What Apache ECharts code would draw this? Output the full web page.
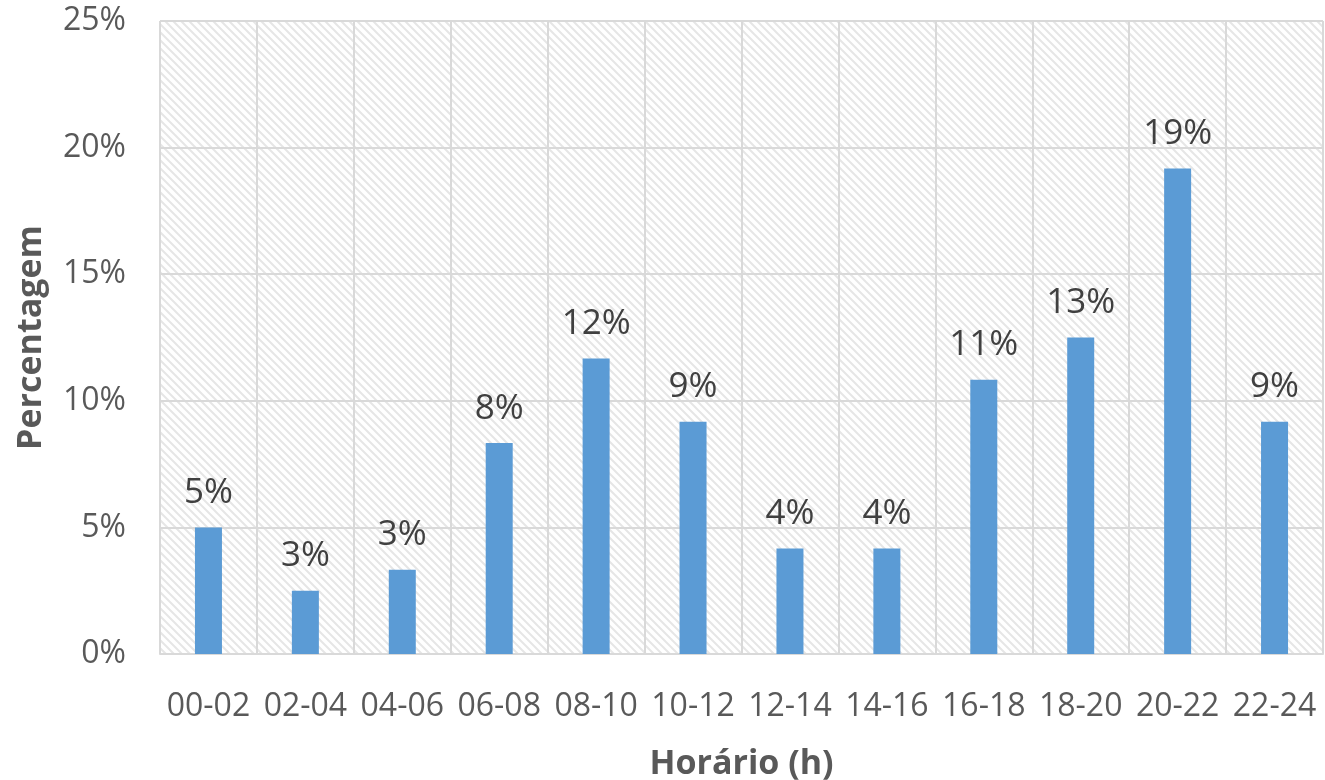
<!DOCTYPE html>
<html>
<head>
<meta charset="utf-8">
<script src="https://cdn.jsdelivr.net/npm/echarts@6/dist/echarts.min.js"></script>
<style>
  html, body { margin: 0; padding: 0; background: #fff; }
  #chart { width: 1325px; height: 780px; }
</style>
</head>
<body>
<div id="chart"></div>
<script>
  // faixas horárias e percentagens (%)
  var categories = ['00-02', '02-04', '04-06', '06-08', '08-10', '10-12',
                    '12-14', '14-16', '16-18', '18-20', '20-22', '22-24'];
  var percentages = [5.0, 2.5, 3.33, 8.33, 11.67, 9.17, 4.17, 4.17, 10.83, 12.5, 19.17, 9.17];
  var yTicks = [0, 5, 10, 15, 20, 25];

  var FONT = '"Open Sans", "Noto Sans", sans-serif';

  // padrão listrado do fundo
  function makeHatch() {
    var c = document.createElement('canvas');
    c.width = 8; c.height = 8;
    var ctx = c.getContext('2d');
    ctx.fillStyle = '#ffffff';
    ctx.fillRect(0, 0, 8, 8);
    ctx.strokeStyle = '#e6e6e6';
    ctx.lineWidth = 2;
    ctx.beginPath();
    ctx.moveTo(-2, -2); ctx.lineTo(10, 10);
    ctx.moveTo(-2, 6); ctx.lineTo(2, 10);
    ctx.moveTo(6, -2); ctx.lineTo(10, 2);
    ctx.stroke();
    return c;
  }

  var chart = echarts.init(document.getElementById('chart'));
  var option = {
    animation: false,
    grid: {
      left: 160,
      right: 2,
      top: 21,
      bottom: 126,
      outerBoundsMode: 'none',
      show: true,
      borderWidth: 0,
      backgroundColor: { image: makeHatch(), repeat: 'repeat' }
    },
    xAxis: {
      type: 'category',
      data: categories,
      name: 'Horário (h)',
      nameLocation: 'middle',
      nameGap: 93,
      nameTextStyle: { fontFamily: FONT, fontSize: 34, fontWeight: 'bold', color: '#595959' },
      axisLine: { show: true, lineStyle: { color: '#d9d9d9', width: 2 } },
      axisTick: { show: false },
      axisLabel: {
        interval: 0, hideOverlap: false,
        fontFamily: FONT, fontSize: 32, color: '#595959', margin: 37
      },
      splitLine: { show: true, interval: 0, lineStyle: { color: '#d9d9d9', width: 2 } }
    },
    yAxis: {
      type: 'value',
      min: 0,
      max: 25,
      interval: 5,
      name: 'Percentagem',
      nameLocation: 'middle',
      nameGap: 112,
      nameTextStyle: { fontFamily: FONT, fontSize: 34, fontWeight: 'bold', color: '#595959' },
      axisLine: { show: false },
      axisTick: { show: false },
      axisLabel: {
        fontFamily: FONT, fontSize: 32, color: '#595959', margin: 34,
        formatter: function (v) { return yTicks.indexOf(v) >= 0 ? v + '%' : ''; }
      },
      splitLine: { show: true, lineStyle: { color: '#d9d9d9', width: 2 } }
    },
    series: [{
      type: 'bar',
      data: percentages,
      barWidth: 27,
      itemStyle: { color: '#5b9bd5' },
      label: {
        show: true,
        position: 'top',
        distance: 17,
        fontFamily: FONT,
        fontSize: 35,
        color: '#404040',
        formatter: function (p) { return Math.round(p.value) + '%'; }
      }
    }]
  };
  chart.setOption(option);
</script>
</body>
</html>
